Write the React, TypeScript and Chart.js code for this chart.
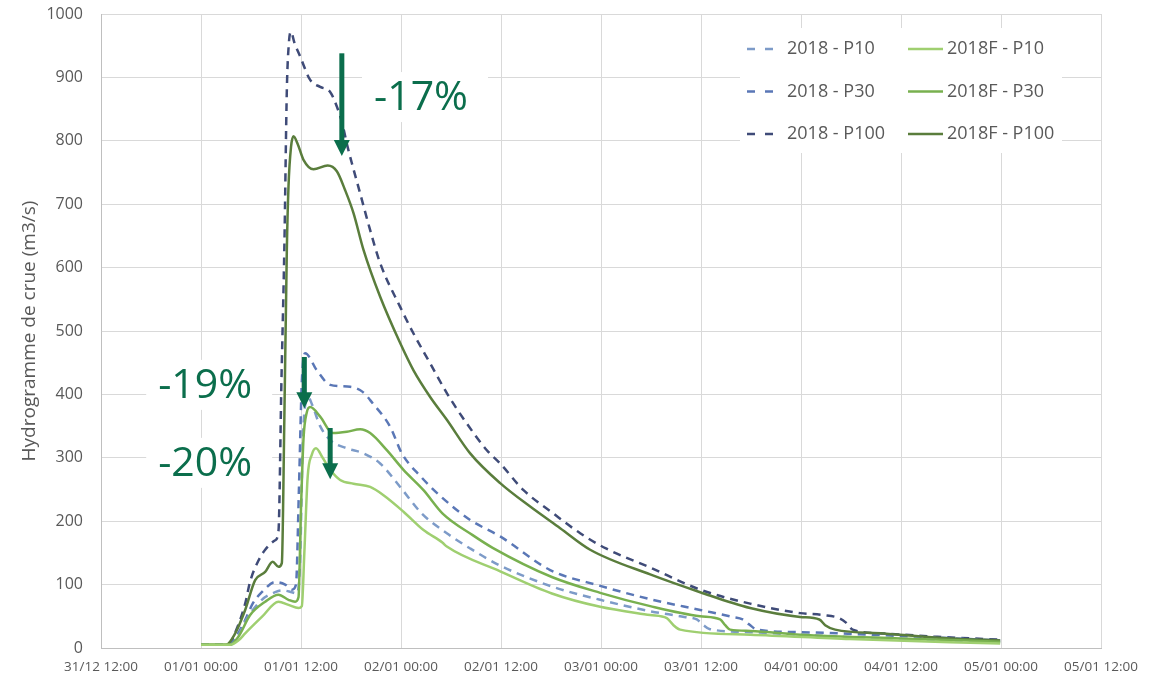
import React, { useEffect, useRef } from 'react';
import { Chart, registerables } from 'chart.js';

Chart.register(...registerables);

// X axis: hours since 31/12 12:00
const xTickLabels = [
  '31/12 12:00', '01/01 00:00', '01/01 12:00', '02/01 00:00', '02/01 12:00', '03/01 00:00',
  '03/01 12:00', '04/01 00:00', '04/01 12:00', '05/01 00:00', '05/01 12:00',
];

const seriesNames = ['2018 - P10', '2018 - P30', '2018 - P100', '2018F - P10', '2018F - P30', '2018F - P100'];
const seriesColors = ['#7d9bc8', '#5a77b6', '#3f4b78', '#9fcf70', '#78b04f', '#5a7d3c'];

const p10Hours = [12, 15.5, 16.5, 17.3, 19.3, 20.9, 21.7, 22.9, 23.5, 23.9, 24.2, 24.6, 24.9, 25.3, 26.3, 27.5, 29.5, 31.5, 33.5, 35.9, 38.5, 41.5, 44.3, 47.9, 54.1, 59.9, 65.9, 70.0, 71.5, 72.3, 73.0, 77.9, 83.9, 95.9, 107.9];
const p10Values = [5, 5, 20, 42, 76, 88, 91, 88, 86, 140, 320, 390, 395, 385, 350, 328, 315, 307, 291, 254, 212, 181, 157, 130, 97, 76, 58, 49, 45, 36, 30, 25, 21, 14, 9];

const p30Hours = [12, 15.3, 16.3, 17.3, 18.2, 19.3, 20.9, 22.1, 22.9, 23.4, 23.75, 24.1, 24.5, 25.9, 27.5, 29.9, 31.4, 32.6, 34.7, 36.1, 38.4, 40.7, 44.3, 47.9, 53.9, 59.9, 65.9, 71.9, 75.8, 77.0, 77.8, 78.7, 83.9, 95.9, 107.9];
const p30Values = [5, 5, 20, 44, 70, 88, 104, 100, 92, 100, 250, 420, 465, 438, 415, 412, 404, 386, 349, 307, 270, 240, 202, 176, 123, 98, 77, 60, 49, 45, 37, 29, 25, 19, 12];

const p100Hours = [12, 15.2, 16.4, 17.3, 17.9, 18.9, 19.7, 20.9, 21.3, 21.65, 22.0, 22.3, 22.55, 22.8, 23.2, 23.9, 25.1, 26.3, 27.5, 28.3, 28.9, 29.6, 30.2, 31.1, 32.3, 33.5, 35.9, 37.5, 39.5, 41.5, 43.9, 46.3, 47.9, 50.7, 54.3, 57.5, 60.6, 65.9, 71.9, 77.9, 83.9, 86.7, 88.6, 89.4, 90.2, 93.9, 99.9, 107.9];
const p100Values = [5, 5, 34, 70, 105, 138, 155, 170, 185, 420, 630, 880, 955, 972, 955, 933, 896, 885, 877, 854, 830, 790, 760, 717, 659, 607, 538, 496, 449, 402, 354, 312, 291, 249, 212, 181, 157, 127, 92, 70, 55, 52, 47, 40, 29, 23, 18, 13];

const f10Hours = [12, 15.5, 16.5, 17.3, 19.3, 21.3, 22.5, 23.7, 24.1, 24.4, 24.8, 25.3, 25.8, 26.6, 27.5, 28.7, 30.3, 32.3, 33.9, 36.3, 38.7, 41.0, 41.5, 47.9, 54.1, 59.9, 65.9, 67.9, 68.7, 69.5, 77.9, 89.9, 107.9];
const f10Values = [5, 5, 12, 23, 49, 73, 68, 63, 66, 150, 270, 305, 315, 300, 281, 265, 259, 254, 241, 215, 186, 166, 160, 121, 86, 65, 52, 47, 36, 29, 21, 14, 7];

const f30Hours = [12, 15.5, 16.5, 17.9, 19.7, 21.3, 22.5, 23.3, 23.7, 24.0, 24.3, 24.7, 25.1, 26.3, 27.8, 29.5, 31.1, 32.3, 34.3, 36.3, 38.7, 41.0, 44.6, 47.0, 54.1, 59.9, 65.9, 71.9, 74.3, 74.9, 75.5, 77.9, 83.9, 95.9, 107.9];
const f30Values = [5, 5, 18, 52, 73, 84, 76, 73, 80, 220, 330, 372, 380, 365, 339, 341, 345, 339, 312, 281, 249, 212, 178, 158, 112, 87, 66, 50, 45, 36, 29, 27, 21, 15, 10];

const f100Hours = [12, 15, 16.1, 17.3, 18.5, 19.7, 20.6, 21.3, 21.7, 22.0, 22.3, 22.5, 22.8, 23.1, 23.6, 24.3, 25.5, 27.2, 28.3, 29.3, 30.3, 31.5, 33.5, 35.9, 37.5, 39.5, 41.5, 44.3, 47.9, 51.5, 55.1, 58.7, 65.9, 71.9, 77.9, 83.9, 86.2, 86.9, 88.1, 93.9, 101.9, 107.9];
const f100Values = [5, 5, 23, 60, 107, 120, 136, 128, 134, 360, 628, 728, 790, 807, 795, 770, 755, 761, 752, 722, 686, 628, 554, 481, 438, 396, 360, 307, 260, 223, 189, 155, 116, 88, 63, 49, 45, 36, 29, 23, 15, 12];

// Annotations (data coordinates: hour, value)
const arrowHours = [28.9, 24.4, 27.5];
const arrowFrom = [938, 459, 347];
const arrowTo = [776, 378, 266];
const labelTexts = ['-17%', '-19%', '-20%'];
const labelHours = [38.4, 12.5, 12.5];
const labelValues = [869, 415, 292];

const GREEN = '#0b6e4c';
const TEXT = '#595959';
const FONT = "'Open Sans', 'Liberation Sans', sans-serif";

export default function App() {
  const ref = useRef<HTMLCanvasElement>(null);

  useEffect(() => {
    const toPts = (h: number[], v: number[]) => h.map((x, i) => ({ x, y: v[i] }));
    const allHours = [p10Hours, p30Hours, p100Hours, f10Hours, f30Hours, f100Hours];
    const allValues = [p10Values, p30Values, p100Values, f10Values, f30Values, f100Values];

    const datasets = seriesNames.map((name, i) => ({
      label: name,
      data: toPts(allHours[i], allValues[i]),
      borderColor: seriesColors[i],
      backgroundColor: seriesColors[i],
      borderWidth: 2.5,
      borderDash: i < 3 ? [8, 6] : [],
      fill: false,
      pointRadius: 0,
      cubicInterpolationMode: 'monotone' as const,
      order: i < 3 ? 10 + i : i,
    }));

    const annotationPlugin = {
      id: 'annos',
      afterDraw(chart: any) {
        const ctx = chart.ctx;
        const xs = chart.scales.x;
        const ys = chart.scales.y;
        ctx.save();
        ctx.font = `41px ${FONT}`;
        ctx.textBaseline = 'middle';
        ctx.textAlign = 'center';
        labelTexts.forEach((t, i) => {
          const cx = xs.getPixelForValue(labelHours[i]);
          const cy = ys.getPixelForValue(labelValues[i]);
          const w = ctx.measureText(t).width;
          ctx.fillStyle = '#ffffff';
          ctx.fillRect(cx - w / 2 - 12, cy - 25, w + 32, 50);
          ctx.fillStyle = GREEN;
          ctx.fillText(t, cx, cy + 1);
        });
        arrowHours.forEach((h, i) => {
          const x = xs.getPixelForValue(h);
          const y0 = ys.getPixelForValue(arrowFrom[i]);
          const y1 = ys.getPixelForValue(arrowTo[i]);
          const headH = 16;
          ctx.fillStyle = GREEN;
          ctx.fillRect(x - 2.5, y0, 5, y1 - y0 - headH + 1);
          ctx.beginPath();
          ctx.moveTo(x - 8, y1 - headH);
          ctx.lineTo(x + 8, y1 - headH);
          ctx.lineTo(x, y1);
          ctx.closePath();
          ctx.fill();
        });
        ctx.restore();
      },
    };

    const legendPlugin = {
      id: 'customLegend',
      afterDraw(chart: any) {
        const ctx = chart.ctx;
        const area = chart.chartArea;
        const boxL = area.right - 361;
        const boxT = area.top + 14;
        ctx.save();
        ctx.fillStyle = '#ffffff';
        ctx.fillRect(boxL, boxT, 322, 125);
        ctx.font = `18px ${FONT}`;
        ctx.textBaseline = 'middle';
        ctx.textAlign = 'left';
        seriesNames.forEach((name, i) => {
          const col = i < 3 ? 0 : 1;
          const row = i % 3;
          const y = boxT + 21 + row * 42.5;
          ctx.strokeStyle = seriesColors[i];
          ctx.lineWidth = 2.5;
          ctx.beginPath();
          if (col === 0) {
            ctx.setLineDash([8, 10]);
            ctx.moveTo(boxL + 7, y);
            ctx.lineTo(boxL + 35, y);
          } else {
            ctx.setLineDash([]);
            ctx.moveTo(boxL + 168, y);
            ctx.lineTo(boxL + 203, y);
          }
          ctx.stroke();
          ctx.setLineDash([]);
          ctx.fillStyle = TEXT;
          ctx.fillText(name, col === 0 ? boxL + 47 : boxL + 207, y);
        });
        ctx.restore();
      },
    };

    const chart = new Chart(ref.current as HTMLCanvasElement, {
      type: 'line',
      data: { datasets: datasets as any },
      options: {
        responsive: false,
        animation: false,
        layout: { padding: { top: 14, right: 63, left: 0, bottom: 0 } },
        plugins: { legend: { display: false }, tooltip: { enabled: false } },
        elements: { point: { radius: 0 } },
        scales: {
          x: {
            type: 'linear',
            min: 0,
            max: 120,
            afterFit: (s: any) => { s.height = 32; s.paddingLeft = 0; s.paddingRight = 0; },
            grid: { color: '#d9d9d9', lineWidth: 1, drawTicks: false },
            border: { color: '#bfbfbf', width: 1 },
            ticks: {
              stepSize: 12,
              autoSkip: false,
              maxRotation: 0,
              padding: 11,
              color: TEXT,
              font: { family: FONT, size: 13.5 },
              callback: (v: any) => xTickLabels[Math.round(Number(v) / 12)] ?? '',
            },
          },
          y: {
            type: 'linear',
            min: 0,
            max: 1000,
            afterFit: (s: any) => { s.width = 101; s.paddingTop = 0; s.paddingBottom = 0; },
            grid: { color: '#d9d9d9', lineWidth: 1, drawTicks: false },
            border: { color: '#bfbfbf', width: 1 },
            ticks: {
              stepSize: 100,
              padding: 18,
              color: TEXT,
              font: { family: FONT, size: 16 },
              callback: (v: any) => String(v),
            },
            title: {
              display: true,
              text: 'Hydrogramme de crue (m3/s)',
              color: TEXT,
              font: { family: FONT, size: 19 },
              padding: { top: 18, bottom: 0 },
            },
          },
        },
      },
      plugins: [annotationPlugin, legendPlugin],
    });
    return () => chart.destroy();
  }, []);

  return (
    <div style={{ position: 'fixed', left: 0, top: 0, width: 1164, height: 680, background: '#ffffff' }}>
      <canvas ref={ref} width={1164} height={680} style={{ width: 1164, height: 680, display: 'block' }} />
    </div>
  );
}
